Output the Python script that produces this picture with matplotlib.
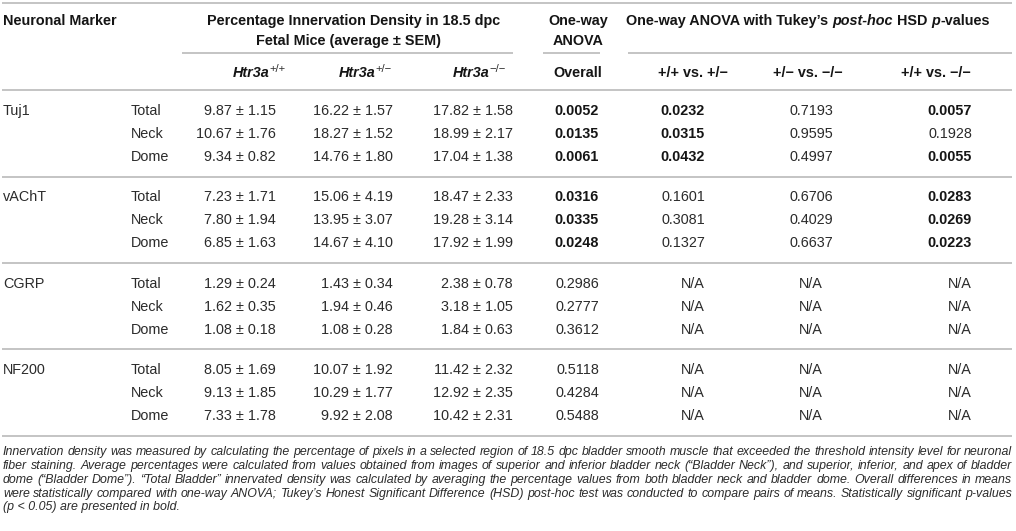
import matplotlib
matplotlib.use("Agg")
import matplotlib.pyplot as plt

# table data
markers = ["Tuj1", "vAChT", "CGRP", "NF200"]
regions = ["Total", "Neck", "Dome"]

wt_mean = [[9.87, 10.67, 9.34], [7.23, 7.80, 6.85], [1.29, 1.62, 1.08], [8.05, 9.13, 7.33]]
wt_sem = [[1.15, 1.76, 0.82], [1.71, 1.94, 1.63], [0.24, 0.35, 0.18], [1.69, 1.85, 1.78]]
het_mean = [[16.22, 18.27, 14.76], [15.06, 13.95, 14.67], [1.43, 1.94, 1.08], [10.07, 10.29, 9.92]]
het_sem = [[1.57, 1.52, 1.80], [4.19, 3.07, 4.10], [0.34, 0.46, 0.28], [1.92, 1.77, 2.08]]
ko_mean = [[17.82, 18.99, 17.04], [18.47, 19.28, 17.92], [2.38, 3.18, 1.84], [11.42, 12.92, 10.42]]
ko_sem = [[1.58, 2.17, 1.38], [2.33, 3.14, 1.99], [0.78, 1.05, 0.63], [2.32, 2.35, 2.31]]

anova_p = [[0.0052, 0.0135, 0.0061], [0.0316, 0.0335, 0.0248],
           [0.2986, 0.2777, 0.3612], [0.5118, 0.4284, 0.5488]]
# None = N/A
p_wt_het = [[0.0232, 0.0315, 0.0432], [0.1601, 0.3081, 0.1327], None, None]
p_het_ko = [[0.7193, 0.9595, 0.4997], [0.6706, 0.4029, 0.6637], None, None]
p_wt_ko = [[0.0057, 0.1928, 0.0055], [0.0283, 0.0269, 0.0223], None, None]

caption_lines = [
    "Innervation density was measured by calculating the percentage of pixels in a selected region of 18.5 dpc bladder smooth muscle that exceeded the threshold intensity level for neuronal",
    "fiber staining. Average percentages were calculated from values obtained from images of superior and inferior bladder neck (\u201cBladder Neck\u201d), and superior, inferior, and apex of bladder",
    "dome (\u201cBladder Dome\u201d). \u201cTotal Bladder\u201d innervated density was calculated by averaging the percentage values from both bladder neck and bladder dome. Overall differences in means",
    "were statistically compared with one-way ANOVA; Tukey\u2019s Honest Significant Difference (HSD) post-hoc test was conducted to compare pairs of means. Statistically significant p-values",
    "(p < 0.05) are presented in bold.",
]

FONT = "Liberation Sans"
TXT = "#2b2b2b"
TXT_BOLD = "#151515"
RULE = "#c4c4c4"
FS = 10.4

fig = plt.figure(figsize=(10.16, 5.31), dpi=100)
ax = fig.add_axes([0, 0, 1, 1])
ax.set_xlim(0, 1016)
ax.set_ylim(531, 0)
ax.axis("off")
renderer = fig.canvas.get_renderer()


def put(x, y, s, ha="left", bold=False, italic=False, size=FS):
    # y is the visual centre of the row, text sits on a baseline
    return ax.text(x, y + 5, s, ha=ha, va="baseline", family=FONT,
                   color=TXT_BOLD if bold else TXT, fontsize=size,
                   fontweight="bold" if bold else "normal",
                   fontstyle="italic" if italic else "normal")


def rich(xc, y, segs):
    # segs: (text, bold, italic, size, rise)
    objs = []
    for s, b, it, sz, rise in segs:
        t = put(0, y - rise, s, bold=b, italic=it, size=sz)
        objs.append(t)
    widths = [t.get_window_extent(renderer).width for t in objs]
    x = xc - sum(widths) / 2
    for t, w in zip(objs, widths):
        t.set_x(x)
        x += w


def rule(y, x0=2, x1=1012):
    ax.plot([x0, x1], [y, y], color=RULE, lw=1.4, solid_capstyle="butt")


# header
rule(3)
put(3, 20, "Neuronal Marker", bold=True)
put(354, 20, "Percentage Innervation Density in 18.5 dpc", ha="center", bold=True)
put(349, 40, "Fetal Mice (average \u00b1 SEM)", ha="center", bold=True)
put(578, 20, "One-way", ha="center", bold=True)
put(578, 40, "ANOVA", ha="center", bold=True)
rich(808, 20, [("One-way ANOVA with Tukey\u2019s ", True, False, FS, 0),
               ("post-hoc", True, True, FS, 0),
               (" HSD ", True, False, FS, 0),
               ("p", True, True, FS, 0),
               ("-values", True, False, FS, 0)])
rule(53, 182, 513)
rule(53, 543, 600)
rule(53, 628, 1012)

geno_sup = ["+/+", "+/\u2212", "\u2212/\u2212"]
geno_x = [259, 365, 479]
for sup, gx in zip(geno_sup, geno_x):
    rich(gx, 72, [("Htr3a", True, True, FS, 0), (sup, False, False, FS * 0.78, 5)])
put(578, 72, "Overall", ha="center", bold=True)
comp_labels = ["+/+ vs. +/\u2212", "+/\u2212 vs. \u2212/\u2212", "+/+ vs. \u2212/\u2212"]
comp_x = [693, 808, 936]
for lab, cx in zip(comp_labels, comp_x):
    put(cx, 72, lab, ha="center", bold=True)
rule(90)

# body
group_top = 90.5
group_h = 86.3
row_off = [19.5, 42.5, 65.5]
val_right = [276, 393, 513]
p_cols = [(599, "right"), (705, "right"), (811, "center"), (972, "right")]

for g, mk in enumerate(markers):
    y0 = group_top + g * group_h
    put(3, y0 + row_off[0], mk)
    for r, reg in enumerate(regions):
        y = y0 + row_off[r]
        put(131, y, reg)
        for means, sems, xr in zip([wt_mean, het_mean, ko_mean], [wt_sem, het_sem, ko_sem], val_right):
            put(xr, y, f"{means[g][r]:.2f} \u00b1 {sems[g][r]:.2f}", ha="right")
        pvals = [anova_p[g], p_wt_het[g], p_het_ko[g], p_wt_ko[g]]
        for pv, (px, pha) in zip(pvals, p_cols):
            if pv is None:
                put(px, y, "N/A", ha=pha)
            else:
                put(px, y, f"{pv[r]:.4f}", ha=pha, bold=pv[r] < 0.05)
    rule(y0 + group_h)

# caption, justified italic lines
cap_fs = 8.5
probe = ax.text(0, 0, caption_lines[0], family=FONT, fontstyle="italic", fontsize=cap_fs)
w0 = probe.get_window_extent(renderer).width
probe.remove()
cap_fs = cap_fs * 1004 / w0
cap_y = [451, 465, 479, 493, 506]
left, right = 3, 1012
for i, (line, cy) in enumerate(zip(caption_lines, cap_y)):
    if i == len(caption_lines) - 1:
        ax.text(left, cy + 4, line, family=FONT, fontstyle="italic", fontsize=cap_fs,
                color=TXT, va="baseline")
        continue
    words = line.split(" ")
    objs = [ax.text(0, cy + 4, w, family=FONT, fontstyle="italic", fontsize=cap_fs,
                    color=TXT, va="baseline") for w in words]
    ws = [t.get_window_extent(renderer).width for t in objs]
    gap = (right - left - sum(ws)) / (len(words) - 1)
    x = left
    for t, w in zip(objs, ws):
        t.set_x(x)
        x += w + gap

fig.savefig("out.png", dpi=100, facecolor="white")
